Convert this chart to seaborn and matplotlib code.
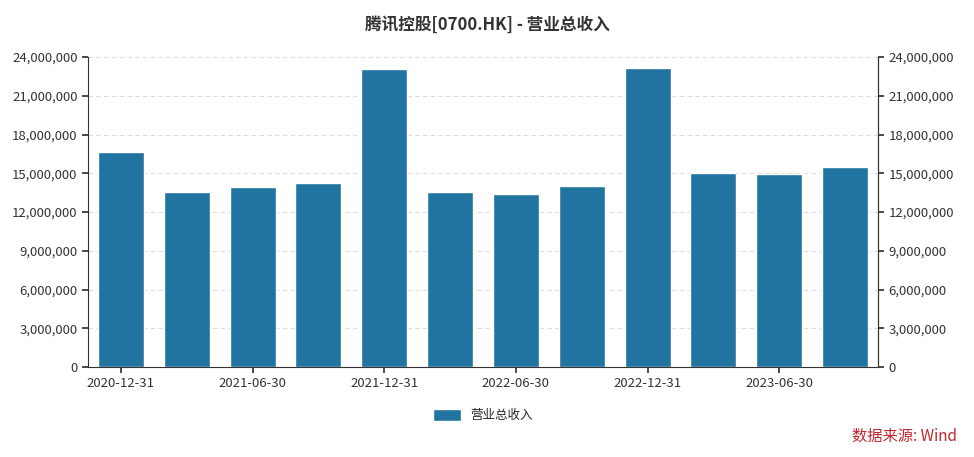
import matplotlib
matplotlib.use("Agg")
import matplotlib.pyplot as plt
import seaborn as sns
import pandas as pd
from matplotlib.ticker import FuncFormatter, MultipleLocator

dates = ["2020-12-31","2021-03-31","2021-06-30","2021-09-30","2021-12-31","2022-03-31",
         "2022-06-30","2022-09-30","2022-12-31","2023-03-31","2023-06-30","2023-09-30"]
revenue = [16640000,13540000,13930000,14240000,23060000,13540000,
           13390000,14000000,23140000,15000000,14940000,15480000]
series_name = "营业总收入"
title = "腾讯控股[0700.HK] - 营业总收入"

sns.set_theme(style="white")
plt.rcParams['font.family'] = ['Noto Sans CJK SC', 'DejaVu Sans']

df = pd.DataFrame({"date": dates, "value": revenue})
fig = plt.figure(figsize=(9.74, 4.57), dpi=100)
ax = fig.add_axes([0.0904, 0.197, 0.811, 0.678])
sns.barplot(data=df, x="date", y="value", color="#2274a0", width=0.7, ax=ax, label=series_name, saturation=1)
ax.set_ylim(0, 24000000)
ax.yaxis.set_major_locator(MultipleLocator(3000000))
fmt = FuncFormatter(lambda v, p: f"{int(v):,}")
ax.yaxis.set_major_formatter(fmt)
ax.grid(axis="y", color="#dddddd", linestyle=(0, (4, 3)), linewidth=0.8)
ax.set_axisbelow(True)
ax.set_xlabel(""); ax.set_ylabel("")
ax.set_xticks(range(0, 12, 2))
ax.set_xticklabels(dates[::2])
ax.set_xlim(-0.5, 11.5)
for s in ["top"]:
    ax.spines[s].set_visible(False)
for s in ["left", "bottom", "right"]:
    ax.spines[s].set_color("#333333"); ax.spines[s].set_linewidth(0.8)
ax.tick_params(axis="both", labelsize=9.5, colors="#333333", length=4, direction="out", left=True, bottom=True)
ax2 = ax.twinx()
ax2.set_ylim(ax.get_ylim())
ax2.yaxis.set_major_locator(MultipleLocator(3000000))
ax2.yaxis.set_major_formatter(fmt)
ax2.tick_params(axis="y", labelsize=9.5, colors="#333333", length=4, right=True)
for s in ["top", "left", "bottom"]:
    ax2.spines[s].set_visible(False)
ax2.spines["right"].set_color("#333333"); ax2.spines["right"].set_linewidth(0.8)
ax2.grid(False)
fig.text(0.5, 0.945, title, ha="center", va="center", fontsize=12, fontweight="bold", color="#333333")
ax.legend(loc="upper center", bbox_to_anchor=(0.5, -0.1), frameon=False, fontsize=9, handlelength=2.2, handleheight=1.1)
fig.text(0.983, 0.045, "数据来源: Wind", ha="right", va="center", fontsize=11, color="#c0282d")
fig.savefig("out.png", dpi=100)
